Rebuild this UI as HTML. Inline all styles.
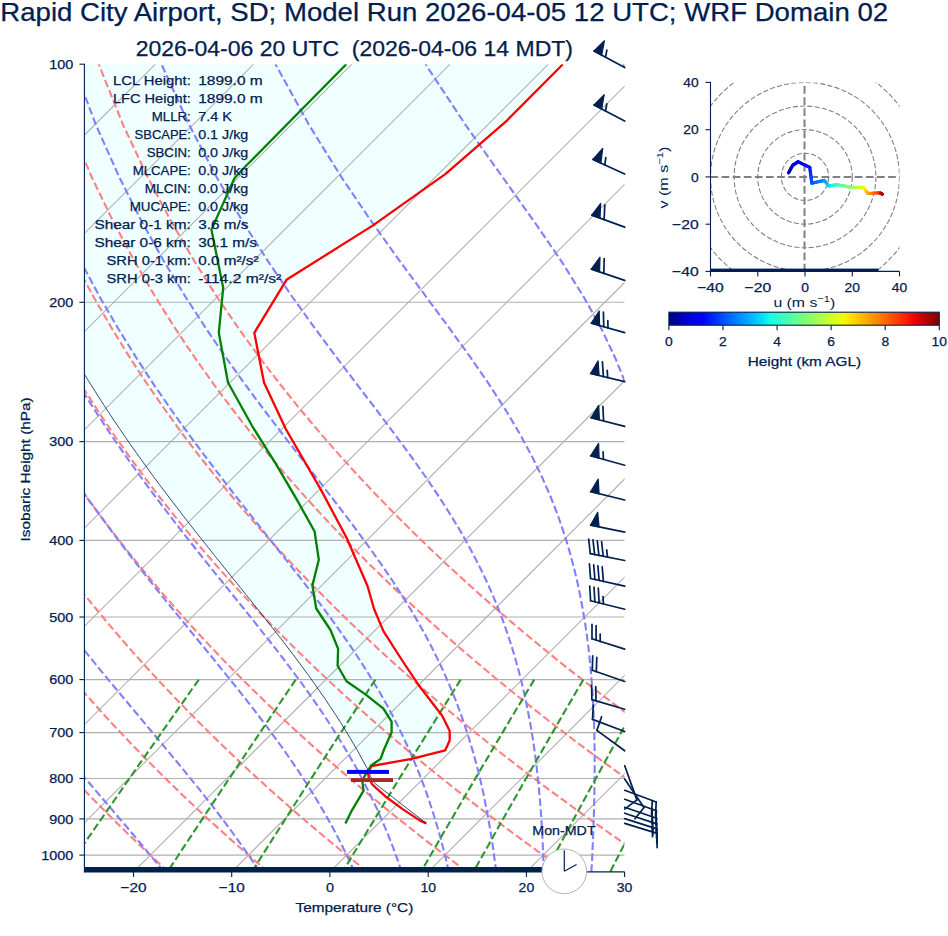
<!DOCTYPE html>
<html><head><meta charset="utf-8"><title>Skew-T</title>
<style>html,body{margin:0;padding:0;background:#fff;}svg{display:block;font-family:"Liberation Sans",sans-serif;}</style>
</head><body>
<svg width="948" height="936" viewBox="0 0 948 936" font-family="Liberation Sans, sans-serif">
<defs><clipPath id="ax"><rect x="84.4" y="64.2" width="540.2" height="807.7"/></clipPath>
<linearGradient id="jet" x1="0" x2="1" y1="0" y2="0">
<stop offset="0.000" stop-color="#000080"/>
<stop offset="0.025" stop-color="#00009c"/>
<stop offset="0.050" stop-color="#0000b9"/>
<stop offset="0.075" stop-color="#0000d6"/>
<stop offset="0.100" stop-color="#0000f3"/>
<stop offset="0.125" stop-color="#0000ff"/>
<stop offset="0.150" stop-color="#0019ff"/>
<stop offset="0.175" stop-color="#0033ff"/>
<stop offset="0.200" stop-color="#004dff"/>
<stop offset="0.225" stop-color="#0066ff"/>
<stop offset="0.250" stop-color="#0080ff"/>
<stop offset="0.275" stop-color="#0099ff"/>
<stop offset="0.300" stop-color="#00b2ff"/>
<stop offset="0.325" stop-color="#00ccff"/>
<stop offset="0.350" stop-color="#00e5f7"/>
<stop offset="0.375" stop-color="#15ffe2"/>
<stop offset="0.400" stop-color="#29ffce"/>
<stop offset="0.425" stop-color="#3effb9"/>
<stop offset="0.450" stop-color="#52ffa5"/>
<stop offset="0.475" stop-color="#67ff90"/>
<stop offset="0.500" stop-color="#7bff7b"/>
<stop offset="0.525" stop-color="#90ff67"/>
<stop offset="0.550" stop-color="#a5ff52"/>
<stop offset="0.575" stop-color="#b9ff3e"/>
<stop offset="0.600" stop-color="#ceff29"/>
<stop offset="0.625" stop-color="#e2ff15"/>
<stop offset="0.650" stop-color="#f7f600"/>
<stop offset="0.675" stop-color="#ffde00"/>
<stop offset="0.700" stop-color="#ffc600"/>
<stop offset="0.725" stop-color="#ffaf00"/>
<stop offset="0.750" stop-color="#ff9700"/>
<stop offset="0.775" stop-color="#ff8000"/>
<stop offset="0.800" stop-color="#ff6800"/>
<stop offset="0.825" stop-color="#ff5000"/>
<stop offset="0.850" stop-color="#ff3900"/>
<stop offset="0.875" stop-color="#ff2100"/>
<stop offset="0.900" stop-color="#f30900"/>
<stop offset="0.925" stop-color="#d60000"/>
<stop offset="0.950" stop-color="#b90000"/>
<stop offset="0.975" stop-color="#9c0000"/>
<stop offset="1.000" stop-color="#800000"/>
</linearGradient></defs>
<g clip-path="url(#ax)">
<polygon points="562.9,64.3 507.2,120.3 445.6,173.9 373.0,225.4 286.5,279.8 254.3,332.8 264.0,382.5 285.8,429.0 321.0,489.9 346.7,538.0 367.5,586.0 374.0,608.8 383.4,631.1 402.2,660.5 418.7,685.2 442.2,715.7 449.7,731.0 449.7,740.4 445.2,750.3 411.6,758.8 371.7,766.0 367.6,770.2 368.0,770.0 363.7,762.1 359.4,754.1 354.9,746.2 350.2,738.2 345.4,730.3 340.5,722.4 335.4,714.4 330.1,706.5 324.8,698.5 319.3,690.6 313.7,682.6 308.0,674.7 302.2,666.8 296.3,658.8 290.3,650.9 284.2,642.9 278.0,635.0 271.8,627.1 265.6,619.1 259.2,611.2 252.9,603.2 246.5,595.3 240.1,587.3 233.8,579.4 227.4,571.5 221.0,563.5 214.6,555.6 208.3,547.6 202.0,539.7 195.7,531.8 189.5,523.8 183.3,515.9 177.2,507.9 171.1,500.0 165.1,492.0 159.1,484.1 153.2,476.2 147.4,468.2 141.7,460.3 136.0,452.3 130.4,444.4 124.9,436.5 119.5,428.5 114.1,420.6 108.8,412.6 103.6,404.7 98.5,396.7 93.5,388.8 88.5,380.9 83.6,372.9 78.8,365.0 74.1,357.0 69.5,349.1 64.9,341.2 60.4,333.2 56.1,325.3 51.7,317.3 47.5,309.4 43.4,301.4 39.3,293.5 35.3,285.6 31.4,277.6 27.5,269.7 23.7,261.7 20.1,253.8 16.4,245.9 12.9,237.9 9.5,230.0 6.1,222.0 2.8,214.1 -0.5,206.1 -3.6,198.2 -6.7,190.3 -9.8,182.3 -12.7,174.4 -15.6,166.4 -18.4,158.5 -21.1,150.6 -23.8,142.6 -26.4,134.7 -28.9,126.7 -31.3,118.8 -33.7,110.8 -36.0,102.9 -38.3,95.0 -40.5,87.0 -42.6,79.1 -44.6,71.1 -46.6,63.2" fill="#f0ffff"/>
<line x1="84.4" x2="624.6" y1="302.3" y2="302.3" stroke="#b0b0b0" stroke-width="1.1"/>
<line x1="84.4" x2="624.6" y1="441.6" y2="441.6" stroke="#b0b0b0" stroke-width="1.1"/>
<line x1="84.4" x2="624.6" y1="540.4" y2="540.4" stroke="#b0b0b0" stroke-width="1.1"/>
<line x1="84.4" x2="624.6" y1="617.0" y2="617.0" stroke="#b0b0b0" stroke-width="1.1"/>
<line x1="84.4" x2="624.6" y1="679.6" y2="679.6" stroke="#b0b0b0" stroke-width="1.1"/>
<line x1="84.4" x2="624.6" y1="732.6" y2="732.6" stroke="#b0b0b0" stroke-width="1.1"/>
<line x1="84.4" x2="624.6" y1="778.5" y2="778.5" stroke="#b0b0b0" stroke-width="1.1"/>
<line x1="84.4" x2="624.6" y1="818.9" y2="818.9" stroke="#b0b0b0" stroke-width="1.1"/>
<line x1="84.4" x2="624.6" y1="855.1" y2="855.1" stroke="#b0b0b0" stroke-width="1.1"/>
<line x1="-750.5" y1="871.9" x2="57.2" y2="64.2" stroke="#b0b0b0" stroke-width="1.1"/>
<line x1="-652.2" y1="871.9" x2="155.4" y2="64.2" stroke="#b0b0b0" stroke-width="1.1"/>
<line x1="-554.0" y1="871.9" x2="253.6" y2="64.2" stroke="#b0b0b0" stroke-width="1.1"/>
<line x1="-455.8" y1="871.9" x2="351.8" y2="64.2" stroke="#b0b0b0" stroke-width="1.1"/>
<line x1="-357.6" y1="871.9" x2="450.1" y2="64.2" stroke="#b0b0b0" stroke-width="1.1"/>
<line x1="-259.4" y1="871.9" x2="548.3" y2="64.2" stroke="#b0b0b0" stroke-width="1.1"/>
<line x1="-161.1" y1="871.9" x2="646.5" y2="64.2" stroke="#b0b0b0" stroke-width="1.1"/>
<line x1="-62.9" y1="871.9" x2="744.7" y2="64.2" stroke="#b0b0b0" stroke-width="1.1"/>
<line x1="35.3" y1="871.9" x2="842.9" y2="64.2" stroke="#b0b0b0" stroke-width="1.1"/>
<line x1="133.5" y1="871.9" x2="941.2" y2="64.2" stroke="#b0b0b0" stroke-width="1.1"/>
<line x1="231.7" y1="871.9" x2="1039.4" y2="64.2" stroke="#b0b0b0" stroke-width="1.1"/>
<line x1="329.9" y1="871.9" x2="1137.6" y2="64.2" stroke="#b0b0b0" stroke-width="1.1"/>
<line x1="428.2" y1="871.9" x2="1235.8" y2="64.2" stroke="#b0b0b0" stroke-width="1.1"/>
<line x1="526.4" y1="871.9" x2="1334.0" y2="64.2" stroke="#b0b0b0" stroke-width="1.1"/>
<line x1="624.6" y1="871.9" x2="1432.3" y2="64.2" stroke="#b0b0b0" stroke-width="1.1"/>
<polyline points="68.8,871.9 62.4,865.5 55.8,858.9 49.3,852.3 42.7,845.5 36.0,838.6 29.2,831.5 22.5,824.3 15.6,817.0 8.7,809.4 1.7,801.7 -5.3,793.9 -12.4,785.8 -19.6,777.6 -26.8,769.1 -34.1,760.5 -41.5,751.6 -48.9,742.5 -56.4,733.1 -64.0,723.5 -71.7,713.5 -79.4,703.3 -87.2,692.8 -95.1,682.0 -103.1,670.8 -111.2,659.2 -119.3,647.2 -127.5,634.8 -135.9,621.9 -144.3,608.5 -152.7,594.6 -161.3,580.0 -170.0,564.9 -178.7,549.0 -187.5,532.4 -196.4,514.9 -205.3,496.5 -214.3,477.0 -223.3,456.4 -232.4,434.5 -241.5,411.0 -250.5,385.9 -259.4,358.7 -268.2,329.2 -276.8,297.0 -285.0,261.4 -292.7,221.7 -299.4,176.8 -304.9,125.1 -308.3,64.2" fill="none" stroke="#ff8080" stroke-width="2.1" stroke-dasharray="7.7 3.3"/>
<polyline points="168.4,871.9 161.4,865.5 154.4,858.9 147.3,852.3 140.1,845.5 132.9,838.6 125.6,831.5 118.2,824.3 110.8,817.0 103.3,809.4 95.7,801.7 88.0,793.9 80.3,785.8 72.5,777.6 64.6,769.1 56.7,760.5 48.6,751.6 40.5,742.5 32.3,733.1 24.0,723.5 15.6,713.5 7.2,703.3 -1.4,692.8 -10.1,682.0 -18.9,670.8 -27.7,659.2 -36.7,647.2 -45.8,634.8 -55.0,621.9 -64.3,608.5 -73.7,594.6 -83.2,580.0 -92.8,564.9 -102.5,549.0 -112.4,532.4 -122.3,514.9 -132.4,496.5 -142.6,477.0 -152.8,456.4 -163.2,434.5 -173.6,411.0 -184.0,385.9 -194.4,358.7 -204.8,329.2 -215.1,297.0 -225.1,261.4 -234.7,221.7 -243.6,176.8 -251.4,125.1 -257.4,64.2" fill="none" stroke="#ff8080" stroke-width="2.1" stroke-dasharray="7.7 3.3"/>
<polyline points="268.0,871.9 260.5,865.5 252.9,858.9 245.3,852.3 237.5,845.5 229.7,838.6 221.9,831.5 213.9,824.3 205.9,817.0 197.8,809.4 189.6,801.7 181.4,793.9 173.0,785.8 164.6,777.6 156.1,769.1 147.5,760.5 138.8,751.6 130.0,742.5 121.1,733.1 112.0,723.5 102.9,713.5 93.7,703.3 84.4,692.8 75.0,682.0 65.4,670.8 55.7,659.2 45.9,647.2 36.0,634.8 25.9,621.9 15.8,608.5 5.4,594.6 -5.0,580.0 -15.6,564.9 -26.4,549.0 -37.3,532.4 -48.3,514.9 -59.5,496.5 -70.9,477.0 -82.3,456.4 -94.0,434.5 -105.7,411.0 -117.5,385.9 -129.4,358.7 -141.4,329.2 -153.3,297.0 -165.1,261.4 -176.7,221.7 -187.7,176.8 -197.9,125.1 -206.6,64.2" fill="none" stroke="#ff8080" stroke-width="2.1" stroke-dasharray="7.7 3.3"/>
<polyline points="367.6,871.9 359.6,865.5 351.4,858.9 343.2,852.3 335.0,845.5 326.6,838.6 318.2,831.5 309.7,824.3 301.1,817.0 292.4,809.4 283.6,801.7 274.7,793.9 265.8,785.8 256.7,777.6 247.5,769.1 238.3,760.5 228.9,751.6 219.4,742.5 209.8,733.1 200.1,723.5 190.2,713.5 180.3,703.3 170.2,692.8 160.0,682.0 149.7,670.8 139.2,659.2 128.5,647.2 117.8,634.8 106.8,621.9 95.8,608.5 84.5,594.6 73.1,580.0 61.5,564.9 49.7,549.0 37.8,532.4 25.7,514.9 13.4,496.5 0.9,477.0 -11.8,456.4 -24.7,434.5 -37.8,411.0 -51.0,385.9 -64.4,358.7 -78.0,329.2 -91.6,297.0 -105.2,261.4 -118.7,221.7 -131.9,176.8 -144.4,125.1 -155.7,64.2" fill="none" stroke="#ff8080" stroke-width="2.1" stroke-dasharray="7.7 3.3"/>
<polyline points="467.2,871.9 458.6,865.5 450.0,858.9 441.2,852.3 432.4,845.5 423.5,838.6 414.5,831.5 405.4,824.3 396.2,817.0 386.9,809.4 377.6,801.7 368.1,793.9 358.5,785.8 348.8,777.6 339.0,769.1 329.0,760.5 319.0,751.6 308.8,742.5 298.5,733.1 288.1,723.5 277.6,713.5 266.9,703.3 256.0,692.8 245.0,682.0 233.9,670.8 222.6,659.2 211.2,647.2 199.5,634.8 187.7,621.9 175.8,608.5 163.6,594.6 151.2,580.0 138.7,564.9 125.9,549.0 112.9,532.4 99.7,514.9 86.2,496.5 72.6,477.0 58.7,456.4 44.5,434.5 30.1,411.0 15.4,385.9 0.5,358.7 -14.6,329.2 -29.8,297.0 -45.2,261.4 -60.7,221.7 -76.0,176.8 -90.9,125.1 -104.8,64.2" fill="none" stroke="#ff8080" stroke-width="2.1" stroke-dasharray="7.7 3.3"/>
<polyline points="566.8,871.9 557.7,865.5 548.5,858.9 539.2,852.3 529.9,845.5 520.4,838.6 510.8,831.5 501.1,824.3 491.4,817.0 481.5,809.4 471.5,801.7 461.4,793.9 451.2,785.8 440.9,777.6 430.4,769.1 419.8,760.5 409.1,751.6 398.3,742.5 387.3,733.1 376.1,723.5 364.9,713.5 353.4,703.3 341.8,692.8 330.1,682.0 318.2,670.8 306.1,659.2 293.8,647.2 281.3,634.8 268.6,621.9 255.8,608.5 242.7,594.6 229.4,580.0 215.8,564.9 202.0,549.0 188.0,532.4 173.7,514.9 159.1,496.5 144.3,477.0 129.2,456.4 113.7,434.5 98.0,411.0 81.9,385.9 65.5,358.7 48.9,329.2 31.9,297.0 14.7,261.4 -2.7,221.7 -20.1,176.8 -37.4,125.1 -53.9,64.2" fill="none" stroke="#ff8080" stroke-width="2.1" stroke-dasharray="7.7 3.3"/>
<polyline points="666.4,871.9 656.8,865.5 647.0,858.9 637.2,852.3 627.3,845.5 617.3,838.6 607.1,831.5 596.9,824.3 586.5,817.0 576.1,809.4 565.5,801.7 554.8,793.9 543.9,785.8 532.9,777.6 521.8,769.1 510.6,760.5 499.2,751.6 487.7,742.5 476.0,733.1 464.2,723.5 452.2,713.5 440.0,703.3 427.7,692.8 415.1,682.0 402.4,670.8 389.5,659.2 376.4,647.2 363.1,634.8 349.5,621.9 335.8,608.5 321.8,594.6 307.5,580.0 293.0,564.9 278.2,549.0 263.1,532.4 247.7,514.9 232.0,496.5 216.0,477.0 199.6,456.4 182.9,434.5 165.9,411.0 148.4,385.9 130.5,358.7 112.3,329.2 93.6,297.0 74.6,261.4 55.3,221.7 35.7,176.8 16.2,125.1 -3.1,64.2" fill="none" stroke="#ff8080" stroke-width="2.1" stroke-dasharray="7.7 3.3"/>
<polyline points="766.0,871.9 755.8,865.5 745.6,858.9 735.2,852.3 724.7,845.5 714.1,838.6 703.4,831.5 692.6,824.3 681.7,817.0 670.6,809.4 659.4,801.7 648.1,793.9 636.6,785.8 625.0,777.6 613.3,769.1 601.4,760.5 589.3,751.6 577.1,742.5 564.8,733.1 552.2,723.5 539.5,713.5 526.6,703.3 513.5,692.8 500.2,682.0 486.7,670.8 473.0,659.2 459.0,647.2 444.9,634.8 430.4,621.9 415.8,608.5 400.8,594.6 385.6,580.0 370.1,564.9 354.3,549.0 338.2,532.4 321.7,514.9 304.9,496.5 287.7,477.0 270.1,456.4 252.2,434.5 233.7,411.0 214.9,385.9 195.5,358.7 175.7,329.2 155.4,297.0 134.6,261.4 113.3,221.7 91.6,176.8 69.7,125.1 47.8,64.2" fill="none" stroke="#ff8080" stroke-width="2.1" stroke-dasharray="7.7 3.3"/>
<polyline points="865.6,871.9 854.9,865.5 844.1,858.9 833.2,852.3 822.2,845.5 811.0,838.6 799.8,831.5 788.4,824.3 776.8,817.0 765.2,809.4 753.4,801.7 741.4,793.9 729.4,785.8 717.1,777.6 704.7,769.1 692.2,760.5 679.5,751.6 666.6,742.5 653.5,733.1 640.2,723.5 626.8,713.5 613.2,703.3 599.3,692.8 585.2,682.0 570.9,670.8 556.4,659.2 541.7,647.2 526.6,634.8 511.3,621.9 495.8,608.5 479.9,594.6 463.8,580.0 447.3,564.9 430.5,549.0 413.3,532.4 395.7,514.9 377.8,496.5 359.4,477.0 340.6,456.4 321.4,434.5 301.6,411.0 281.4,385.9 260.5,358.7 239.1,329.2 217.1,297.0 194.5,261.4 171.3,221.7 147.5,176.8 123.2,125.1 98.7,64.2" fill="none" stroke="#ff8080" stroke-width="2.1" stroke-dasharray="7.7 3.3"/>
<polyline points="-31.7,871.9 -37.2,865.5 -42.9,858.9 -48.6,852.3 -54.4,845.5 -60.2,838.6 -66.2,831.5 -72.2,824.3 -78.2,817.0 -84.4,809.4 -90.6,801.7 -96.9,793.9 -103.3,785.8 -109.7,777.6 -116.2,769.1 -122.8,760.5 -129.4,751.6 -136.1,742.5 -142.9,733.1 -149.7,723.5 -156.7,713.5 -163.7,703.3 -170.7,692.8 -177.8,682.0 -185.0,670.8 -192.3,659.2 -199.6,647.2 -207.0,634.8 -214.5,621.9 -222.0,608.5 -229.6,594.6 -237.2,580.0 -244.9,564.9 -252.6,549.0 -260.4,532.4 -268.2,514.9 -276.1,496.5 -283.9,477.0 -291.8,456.4 -299.6,434.5 -307.4,411.0 -315.0,385.9 -322.6,358.7 -329.8,329.2 -336.8,297.0 -343.2,261.4 -349.0,221.7 -353.7,176.8 -356.9,125.1 -357.7,64.2" fill="none" stroke="#8080ff" stroke-width="2.1" stroke-dasharray="7.7 3.3"/>
<polyline points="66.7,871.9 61.1,865.5 55.4,858.9 49.6,852.3 43.7,845.5 37.6,838.6 31.5,831.5 25.3,824.3 18.9,817.0 12.5,809.4 5.9,801.7 -0.8,793.9 -7.6,785.8 -14.4,777.6 -21.4,769.1 -28.5,760.5 -35.7,751.6 -43.0,742.5 -50.4,733.1 -57.9,723.5 -65.4,713.5 -73.1,703.3 -80.9,692.8 -88.8,682.0 -96.7,670.8 -104.8,659.2 -113.0,647.2 -121.2,634.8 -129.6,621.9 -138.0,608.5 -146.5,594.6 -155.2,580.0 -163.9,564.9 -172.7,549.0 -181.6,532.4 -190.5,514.9 -199.6,496.5 -208.6,477.0 -217.8,456.4 -226.9,434.5 -236.1,411.0 -245.2,385.9 -254.3,358.7 -263.2,329.2 -271.9,297.0 -280.3,261.4 -288.1,221.7 -295.0,176.8 -300.7,125.1 -304.3,64.2" fill="none" stroke="#8080ff" stroke-width="2.1" stroke-dasharray="7.7 3.3"/>
<polyline points="163.9,871.9 158.7,865.5 153.4,858.9 147.9,852.3 142.3,845.5 136.5,838.6 130.6,831.5 124.5,824.3 118.2,817.0 111.8,809.4 105.2,801.7 98.5,793.9 91.6,785.8 84.6,777.6 77.3,769.1 70.0,760.5 62.4,751.6 54.8,742.5 46.9,733.1 39.0,723.5 30.8,713.5 22.6,703.3 14.1,692.8 5.6,682.0 -3.1,670.8 -12.0,659.2 -20.9,647.2 -30.0,634.8 -39.3,621.9 -48.7,608.5 -58.2,594.6 -67.8,580.0 -77.6,564.9 -87.5,549.0 -97.6,532.4 -107.7,514.9 -118.0,496.5 -128.4,477.0 -138.9,456.4 -149.5,434.5 -160.1,411.0 -170.8,385.9 -181.6,358.7 -192.3,329.2 -202.8,297.0 -213.2,261.4 -223.2,221.7 -232.5,176.8 -240.8,125.1 -247.3,64.2" fill="none" stroke="#8080ff" stroke-width="2.1" stroke-dasharray="7.7 3.3"/>
<polyline points="259.7,871.9 255.5,865.5 251.1,858.9 246.5,852.3 241.8,845.5 236.8,838.6 231.7,831.5 226.4,824.3 220.8,817.0 215.1,809.4 209.1,801.7 202.9,793.9 196.5,785.8 189.8,777.6 182.9,769.1 175.8,760.5 168.4,751.6 160.8,742.5 153.0,733.1 144.9,723.5 136.6,713.5 128.0,703.3 119.3,692.8 110.3,682.0 101.0,670.8 91.6,659.2 81.9,647.2 72.0,634.8 61.9,621.9 51.6,608.5 41.1,594.6 30.4,580.0 19.5,564.9 8.4,549.0 -2.9,532.4 -14.4,514.9 -26.0,496.5 -37.9,477.0 -49.9,456.4 -62.1,434.5 -74.4,411.0 -86.9,385.9 -99.5,358.7 -112.2,329.2 -124.9,297.0 -137.5,261.4 -149.9,221.7 -162.0,176.8 -173.2,125.1 -183.1,64.2" fill="none" stroke="#8080ff" stroke-width="2.1" stroke-dasharray="7.7 3.3"/>
<polyline points="354.5,871.9 351.6,865.5 348.5,858.9 345.3,852.3 342.0,845.5 338.5,838.6 334.8,831.5 330.9,824.3 326.8,817.0 322.4,809.4 317.9,801.7 313.1,793.9 308.0,785.8 302.7,777.6 297.1,769.1 291.2,760.5 285.0,751.6 278.5,742.5 271.6,733.1 264.4,723.5 256.9,713.5 249.0,703.3 240.7,692.8 232.0,682.0 223.0,670.8 213.6,659.2 203.8,647.2 193.6,634.8 183.1,621.9 172.2,608.5 160.9,594.6 149.3,580.0 137.4,564.9 125.1,549.0 112.5,532.4 99.6,514.9 86.3,496.5 72.8,477.0 59.0,456.4 44.9,434.5 30.6,411.0 16.0,385.9 1.1,358.7 -14.0,329.2 -29.3,297.0 -44.7,261.4 -60.2,221.7 -75.5,176.8 -90.4,125.1 -104.4,64.2" fill="none" stroke="#8080ff" stroke-width="2.1" stroke-dasharray="7.7 3.3"/>
<polyline points="401.6,871.9 399.5,865.5 397.2,858.9 394.8,852.3 392.3,845.5 389.6,838.6 386.7,831.5 383.7,824.3 380.5,817.0 377.2,809.4 373.6,801.7 369.8,793.9 365.7,785.8 361.5,777.6 356.9,769.1 352.1,760.5 346.9,751.6 341.4,742.5 335.6,733.1 329.4,723.5 322.9,713.5 315.9,703.3 308.5,692.8 300.7,682.0 292.4,670.8 283.6,659.2 274.4,647.2 264.6,634.8 254.4,621.9 243.7,608.5 232.4,594.6 220.7,580.0 208.5,564.9 195.8,549.0 182.7,532.4 169.2,514.9 155.2,496.5 140.8,477.0 126.0,456.4 110.8,434.5 95.3,411.0 79.3,385.9 63.1,358.7 46.5,329.2 29.6,297.0 12.5,261.4 -4.8,221.7 -22.2,176.8 -39.3,125.1 -55.8,64.2" fill="none" stroke="#8080ff" stroke-width="2.1" stroke-dasharray="7.7 3.3"/>
<polyline points="448.8,871.9 447.4,865.5 445.9,858.9 444.2,852.3 442.5,845.5 440.7,838.6 438.7,831.5 436.6,824.3 434.4,817.0 432.0,809.4 429.5,801.7 426.8,793.9 423.9,785.8 420.7,777.6 417.4,769.1 413.8,760.5 410.0,751.6 405.8,742.5 401.4,733.1 396.6,723.5 391.5,713.5 385.9,703.3 380.0,692.8 373.5,682.0 366.6,670.8 359.2,659.2 351.2,647.2 342.6,634.8 333.4,621.9 323.6,608.5 313.1,594.6 301.9,580.0 290.1,564.9 277.5,549.0 264.3,532.4 250.5,514.9 236.0,496.5 220.9,477.0 205.2,456.4 188.9,434.5 172.1,411.0 154.7,385.9 136.9,358.7 118.6,329.2 99.8,297.0 80.7,261.4 61.2,221.7 41.4,176.8 21.6,125.1 2.1,64.2" fill="none" stroke="#8080ff" stroke-width="2.1" stroke-dasharray="7.7 3.3"/>
<polyline points="496.1,871.9 495.4,865.5 494.5,858.9 493.7,852.3 492.7,845.5 491.7,838.6 490.5,831.5 489.3,824.3 488.0,817.0 486.6,809.4 485.1,801.7 483.5,793.9 481.7,785.8 479.8,777.6 477.7,769.1 475.4,760.5 472.9,751.6 470.2,742.5 467.3,733.1 464.1,723.5 460.6,713.5 456.8,703.3 452.7,692.8 448.1,682.0 443.2,670.8 437.7,659.2 431.7,647.2 425.2,634.8 418.0,621.9 410.1,608.5 401.4,594.6 392.0,580.0 381.7,564.9 370.4,549.0 358.3,532.4 345.1,514.9 331.0,496.5 315.9,477.0 299.8,456.4 282.8,434.5 264.9,411.0 246.2,385.9 226.7,358.7 206.5,329.2 185.6,297.0 164.0,261.4 141.8,221.7 119.1,176.8 96.0,125.1 72.9,64.2" fill="none" stroke="#8080ff" stroke-width="2.1" stroke-dasharray="7.7 3.3"/>
<polyline points="543.6,871.9 543.5,865.5 543.3,858.9 543.0,852.3 542.8,845.5 542.5,838.6 542.1,831.5 541.7,824.3 541.2,817.0 540.7,809.4 540.1,801.7 539.4,793.9 538.7,785.8 537.8,777.6 536.9,769.1 535.8,760.5 534.7,751.6 533.4,742.5 531.9,733.1 530.3,723.5 528.4,713.5 526.4,703.3 524.1,692.8 521.6,682.0 518.7,670.8 515.5,659.2 511.9,647.2 507.9,634.8 503.4,621.9 498.3,608.5 492.5,594.6 486.0,580.0 478.7,564.9 470.4,549.0 461.1,532.4 450.6,514.9 438.8,496.5 425.7,477.0 411.1,456.4 394.9,434.5 377.3,411.0 358.1,385.9 337.5,358.7 315.6,329.2 292.4,297.0 268.1,261.4 242.8,221.7 216.4,176.8 189.3,125.1 161.5,64.2" fill="none" stroke="#8080ff" stroke-width="2.1" stroke-dasharray="7.7 3.3"/>
<polyline points="591.4,871.9 591.7,865.5 592.1,858.9 592.4,852.3 592.7,845.5 593.0,838.6 593.3,831.5 593.6,824.3 593.8,817.0 594.0,809.4 594.2,801.7 594.4,793.9 594.5,785.8 594.6,777.6 594.7,769.1 594.7,760.5 594.6,751.6 594.5,742.5 594.3,733.1 594.0,723.5 593.6,713.5 593.1,703.3 592.5,692.8 591.7,682.0 590.8,670.8 589.7,659.2 588.4,647.2 586.8,634.8 584.9,621.9 582.6,608.5 580.0,594.6 576.9,580.0 573.2,564.9 568.9,549.0 563.7,532.4 557.7,514.9 550.5,496.5 542.0,477.0 532.0,456.4 520.2,434.5 506.3,411.0 490.1,385.9 471.4,358.7 450.1,329.2 426.3,297.0 400.0,261.4 371.6,221.7 341.2,176.8 309.1,125.1 275.5,64.2" fill="none" stroke="#8080ff" stroke-width="2.1" stroke-dasharray="7.7 3.3"/>
<polyline points="639.3,871.9 640.1,865.5 640.9,858.9 641.7,852.3 642.5,845.5 643.3,838.6 644.2,831.5 645.0,824.3 645.8,817.0 646.7,809.4 647.5,801.7 648.3,793.9 649.2,785.8 650.0,777.6 650.9,769.1 651.7,760.5 652.5,751.6 653.4,742.5 654.2,733.1 655.0,723.5 655.7,713.5 656.5,703.3 657.2,692.8 657.8,682.0 658.5,670.8 659.0,659.2 659.5,647.2 659.9,634.8 660.1,621.9 660.2,608.5 660.2,594.6 660.0,580.0 659.5,564.9 658.7,549.0 657.5,532.4 655.8,514.9 653.6,496.5 650.6,477.0 646.7,456.4 641.7,434.5 635.1,411.0 626.6,385.9 615.6,358.7 601.6,329.2 583.8,297.0 561.5,261.4 534.3,221.7 502.3,176.8 465.7,125.1 425.5,64.2" fill="none" stroke="#8080ff" stroke-width="2.1" stroke-dasharray="7.7 3.3"/>
<polyline points="687.5,871.9 688.6,865.5 689.8,858.9 691.0,852.3 692.2,845.5 693.4,838.6 694.7,831.5 695.9,824.3 697.2,817.0 698.6,809.4 699.9,801.7 701.3,793.9 702.7,785.8 704.1,777.6 705.6,769.1 707.1,760.5 708.6,751.6 710.1,742.5 711.7,733.1 713.3,723.5 715.0,713.5 716.6,703.3 718.3,692.8 720.1,682.0 721.8,670.8 723.6,659.2 725.4,647.2 727.2,634.8 729.0,621.9 730.9,608.5 732.7,594.6 734.6,580.0 736.4,564.9 738.1,549.0 739.8,532.4 741.4,514.9 742.9,496.5 744.1,477.0 745.1,456.4 745.7,434.5 745.8,411.0 745.1,385.9 743.3,358.7 740.1,329.2 734.6,297.0 726.0,261.4 712.6,221.7 692.5,176.8 663.3,125.1 623.1,64.2" fill="none" stroke="#8080ff" stroke-width="2.1" stroke-dasharray="7.7 3.3"/>
<polyline points="735.9,871.9 737.3,865.5 738.7,858.9 740.2,852.3 741.7,845.5 743.3,838.6 744.8,831.5 746.5,824.3 748.1,817.0 749.8,809.4 751.6,801.7 753.3,793.9 755.2,785.8 757.0,777.6 759.0,769.1 760.9,760.5 763.0,751.6 765.1,742.5 767.2,733.1 769.4,723.5 771.7,713.5 774.1,703.3 776.5,692.8 779.0,682.0 781.5,670.8 784.2,659.2 786.9,647.2 789.7,634.8 792.7,621.9 795.7,608.5 798.8,594.6 802.1,580.0 805.4,564.9 808.9,549.0 812.5,532.4 816.2,514.9 820.0,496.5 824.0,477.0 828.1,456.4 832.3,434.5 836.5,411.0 840.8,385.9 845.1,358.7 849.2,329.2 853.1,297.0 856.2,261.4 858.2,221.7 857.8,176.8 853.2,125.1 840.3,64.2" fill="none" stroke="#8080ff" stroke-width="2.1" stroke-dasharray="7.7 3.3"/>
<polyline points="784.4,871.9 786.1,865.5 787.7,858.9 789.4,852.3 791.2,845.5 792.9,838.6 794.8,831.5 796.6,824.3 798.6,817.0 800.5,809.4 802.6,801.7 804.7,793.9 806.8,785.8 809.0,777.6 811.3,769.1 813.6,760.5 816.0,751.6 818.5,742.5 821.0,733.1 823.7,723.5 826.4,713.5 829.2,703.3 832.2,692.8 835.2,682.0 838.3,670.8 841.6,659.2 845.0,647.2 848.5,634.8 852.1,621.9 856.0,608.5 859.9,594.6 864.1,580.0 868.5,564.9 873.0,549.0 877.8,532.4 882.9,514.9 888.2,496.5 893.8,477.0 899.8,456.4 906.1,434.5 912.8,411.0 920.0,385.9 927.6,358.7 935.8,329.2 944.6,297.0 954.1,261.4 964.2,221.7 974.9,176.8 986.1,125.1 997.1,64.2" fill="none" stroke="#8080ff" stroke-width="2.1" stroke-dasharray="7.7 3.3"/>
<polyline points="833.1,871.9 834.9,865.5 836.7,858.9 838.6,852.3 840.5,845.5 842.5,838.6 844.5,831.5 846.5,824.3 848.6,817.0 850.8,809.4 853.1,801.7 855.4,793.9 857.7,785.8 860.2,777.6 862.7,769.1 865.2,760.5 867.9,751.6 870.7,742.5 873.5,733.1 876.5,723.5 879.5,713.5 882.7,703.3 885.9,692.8 889.3,682.0 892.8,670.8 896.5,659.2 900.3,647.2 904.3,634.8 908.4,621.9 912.8,608.5 917.3,594.6 922.1,580.0 927.1,564.9 932.4,549.0 938.0,532.4 943.8,514.9 950.1,496.5 956.7,477.0 963.8,456.4 971.4,434.5 979.5,411.0 988.3,385.9 997.8,358.7 1008.2,329.2 1019.7,297.0 1032.3,261.4 1046.4,221.7 1062.4,176.8 1080.6,125.1 1101.8,64.2" fill="none" stroke="#8080ff" stroke-width="2.1" stroke-dasharray="7.7 3.3"/>
<polyline points="198.8,679.6 195.1,684.9 191.4,690.0 187.9,695.1 184.4,700.1 180.9,705.0 177.5,709.8 174.1,714.6 170.8,719.3 167.6,724.0 164.3,728.6 161.2,733.1 158.0,737.6 155.0,742.0 151.9,746.3 148.9,750.6 145.9,754.9 143.0,759.1 140.1,763.2 137.2,767.3 134.4,771.4 131.6,775.4 128.9,779.3 126.1,783.2 123.4,787.1 120.8,790.9 118.2,794.7 115.6,798.5 113.0,802.2 110.4,805.8 107.9,809.4 105.4,813.0 103.0,816.6 100.5,820.1 98.1,823.6 95.8,827.0 93.4,830.4 91.1,833.8 88.7,837.1 86.5,840.4 84.2,843.7 82.0,846.9 79.7,850.2 77.5,853.3 75.4,856.5 73.2,859.6 71.1,862.7 68.9,865.8 66.8,868.8 64.8,871.9" fill="none" stroke="#2d962d" stroke-width="2.1" stroke-dasharray="7.7 3.3"/>
<polyline points="295.7,679.6 292.2,684.9 288.7,690.0 285.3,695.1 281.9,700.1 278.6,705.0 275.4,709.8 272.1,714.6 269.0,719.3 265.8,724.0 262.7,728.6 259.7,733.1 256.7,737.6 253.7,742.0 250.8,746.3 247.9,750.6 245.1,754.9 242.3,759.1 239.5,763.2 236.8,767.3 234.1,771.4 231.4,775.4 228.7,779.3 226.1,783.2 223.6,787.1 221.0,790.9 218.5,794.7 216.0,798.5 213.5,802.2 211.1,805.8 208.7,809.4 206.3,813.0 204.0,816.6 201.6,820.1 199.3,823.6 197.1,827.0 194.8,830.4 192.6,833.8 190.4,837.1 188.2,840.4 186.0,843.7 183.9,846.9 181.7,850.2 179.6,853.3 177.6,856.5 175.5,859.6 173.5,862.7 171.4,865.8 169.4,868.8 167.4,871.9" fill="none" stroke="#2d962d" stroke-width="2.1" stroke-dasharray="7.7 3.3"/>
<polyline points="375.3,679.6 371.9,684.9 368.5,690.0 365.2,695.1 362.0,700.1 358.8,705.0 355.6,709.8 352.5,714.6 349.5,719.3 346.4,724.0 343.5,728.6 340.5,733.1 337.6,737.6 334.8,742.0 332.0,746.3 329.2,750.6 326.5,754.9 323.8,759.1 321.1,763.2 318.5,767.3 315.8,771.4 313.3,775.4 310.7,779.3 308.2,783.2 305.7,787.1 303.3,790.9 300.9,794.7 298.5,798.5 296.1,802.2 293.8,805.8 291.5,809.4 289.2,813.0 286.9,816.6 284.7,820.1 282.5,823.6 280.3,827.0 278.1,830.4 276.0,833.8 273.8,837.1 271.7,840.4 269.7,843.7 267.6,846.9 265.6,850.2 263.5,853.3 261.5,856.5 259.6,859.6 257.6,862.7 255.7,865.8 253.7,868.8 251.8,871.9" fill="none" stroke="#2d962d" stroke-width="2.1" stroke-dasharray="7.7 3.3"/>
<polyline points="460.7,679.6 457.4,684.9 454.2,690.0 451.0,695.1 447.9,700.1 444.9,705.0 441.8,709.8 438.9,714.6 435.9,719.3 433.0,724.0 430.2,728.6 427.4,733.1 424.6,737.6 421.9,742.0 419.2,746.3 416.5,750.6 413.9,754.9 411.3,759.1 408.8,763.2 406.3,767.3 403.8,771.4 401.3,775.4 398.9,779.3 396.5,783.2 394.1,787.1 391.8,790.9 389.5,794.7 387.2,798.5 384.9,802.2 382.7,805.8 380.5,809.4 378.3,813.0 376.1,816.6 374.0,820.1 371.9,823.6 369.8,827.0 367.7,830.4 365.7,833.8 363.6,837.1 361.6,840.4 359.6,843.7 357.7,846.9 355.7,850.2 353.8,853.3 351.9,856.5 350.0,859.6 348.1,862.7 346.3,865.8 344.5,868.8 342.6,871.9" fill="none" stroke="#2d962d" stroke-width="2.1" stroke-dasharray="7.7 3.3"/>
<polyline points="534.2,679.6 531.1,684.9 528.0,690.0 524.9,695.1 522.0,700.1 519.0,705.0 516.1,709.8 513.2,714.6 510.4,719.3 507.7,724.0 504.9,728.6 502.2,733.1 499.6,737.6 496.9,742.0 494.4,746.3 491.8,750.6 489.3,754.9 486.8,759.1 484.4,763.2 481.9,767.3 479.6,771.4 477.2,775.4 474.9,779.3 472.6,783.2 470.3,787.1 468.0,790.9 465.8,794.7 463.6,798.5 461.5,802.2 459.3,805.8 457.2,809.4 455.1,813.0 453.1,816.6 451.0,820.1 449.0,823.6 447.0,827.0 445.0,830.4 443.0,833.8 441.1,837.1 439.2,840.4 437.3,843.7 435.4,846.9 433.5,850.2 431.7,853.3 429.9,856.5 428.1,859.6 426.3,862.7 424.5,865.8 422.8,868.8 421.0,871.9" fill="none" stroke="#2d962d" stroke-width="2.1" stroke-dasharray="7.7 3.3"/>
<polyline points="583.3,679.6 580.3,684.9 577.2,690.0 574.3,695.1 571.4,700.1 568.5,705.0 565.7,709.8 562.9,714.6 560.2,719.3 557.5,724.0 554.8,728.6 552.2,733.1 549.6,737.6 547.1,742.0 544.6,746.3 542.1,750.6 539.7,754.9 537.2,759.1 534.9,763.2 532.5,767.3 530.2,771.4 527.9,775.4 525.6,779.3 523.4,783.2 521.2,787.1 519.0,790.9 516.9,794.7 514.7,798.5 512.6,802.2 510.6,805.8 508.5,809.4 506.5,813.0 504.5,816.6 502.5,820.1 500.5,823.6 498.6,827.0 496.7,830.4 494.8,833.8 492.9,837.1 491.0,840.4 489.2,843.7 487.4,846.9 485.6,850.2 483.8,853.3 482.0,856.5 480.3,859.6 478.5,862.7 476.8,865.8 475.1,868.8 473.4,871.9" fill="none" stroke="#2d962d" stroke-width="2.1" stroke-dasharray="7.7 3.3"/>
<polyline points="650.7,679.6 647.7,684.9 644.9,690.0 642.0,695.1 639.2,700.1 636.5,705.0 633.8,709.8 631.1,714.6 628.5,719.3 625.9,724.0 623.3,728.6 620.8,733.1 618.4,737.6 615.9,742.0 613.5,746.3 611.1,750.6 608.8,754.9 606.5,759.1 604.2,763.2 601.9,767.3 599.7,771.4 597.5,775.4 595.4,779.3 593.2,783.2 591.1,787.1 589.0,790.9 587.0,794.7 584.9,798.5 582.9,802.2 580.9,805.8 579.0,809.4 577.0,813.0 575.1,816.6 573.2,820.1 571.3,823.6 569.5,827.0 567.6,830.4 565.8,833.8 564.0,837.1 562.3,840.4 560.5,843.7 558.8,846.9 557.0,850.2 555.3,853.3 553.6,856.5 552.0,859.6 550.3,862.7 548.7,865.8 547.1,868.8 545.5,871.9" fill="none" stroke="#2d962d" stroke-width="2.1" stroke-dasharray="7.7 3.3"/>
<polyline points="711.2,679.6 708.3,684.9 705.6,690.0 702.8,695.1 700.1,700.1 697.5,705.0 694.9,709.8 692.3,714.6 689.8,719.3 687.3,724.0 684.9,728.6 682.5,733.1 680.1,737.6 677.7,742.0 675.4,746.3 673.1,750.6 670.9,754.9 668.7,759.1 666.5,763.2 664.3,767.3 662.2,771.4 660.1,775.4 658.0,779.3 656.0,783.2 654.0,787.1 652.0,790.9 650.0,794.7 648.0,798.5 646.1,802.2 644.2,805.8 642.3,809.4 640.5,813.0 638.6,816.6 636.8,820.1 635.0,823.6 633.2,827.0 631.5,830.4 629.7,833.8 628.0,837.1 626.3,840.4 624.6,843.7 623.0,846.9 621.3,850.2 619.7,853.3 618.1,856.5 616.5,859.6 614.9,862.7 613.3,865.8 611.8,868.8 610.2,871.9" fill="none" stroke="#2d962d" stroke-width="2.1" stroke-dasharray="7.7 3.3"/>
<polyline points="755.3,679.6 752.6,684.9 749.9,690.0 747.2,695.1 744.6,700.1 742.0,705.0 739.5,709.8 737.0,714.6 734.6,719.3 732.2,724.0 729.8,728.6 727.5,733.1 725.2,737.6 722.9,742.0 720.6,746.3 718.4,750.6 716.3,754.9 714.1,759.1 712.0,763.2 709.9,767.3 707.8,771.4 705.8,775.4 703.8,779.3 701.8,783.2 699.8,787.1 697.9,790.9 696.0,794.7 694.1,798.5 692.2,802.2 690.4,805.8 688.6,809.4 686.8,813.0 685.0,816.6 683.2,820.1 681.5,823.6 679.8,827.0 678.1,830.4 676.4,833.8 674.7,837.1 673.1,840.4 671.5,843.7 669.9,846.9 668.3,850.2 666.7,853.3 665.1,856.5 663.6,859.6 662.1,862.7 660.6,865.8 659.1,868.8 657.6,871.9" fill="none" stroke="#2d962d" stroke-width="2.1" stroke-dasharray="7.7 3.3"/>
<rect x="84.4" y="867" width="480.6" height="5" fill="#002050"/>
<polyline points="562.9,64.3 507.2,120.3 445.6,173.9 373.0,225.4 286.5,279.8 254.3,332.8 264.0,382.5 285.8,429.0 321.0,489.9 346.7,538.0 367.5,586.0 374.0,608.8 383.4,631.1 402.2,660.5 418.7,685.2 442.2,715.7 449.7,731.0 449.7,740.4 445.2,750.3 411.6,758.8 371.7,766.0 368.0,772.2 368.7,777.3 372.4,784.7 386.5,797.3 402.7,809.1 420.4,820.9 426.3,823.4" fill="none" stroke="#ff0000" stroke-width="2.3" stroke-linejoin="round"/>
<polyline points="346.3,64.3 245.6,166.3 234.6,178.0 211.4,229.6 223.2,287.8 218.8,332.8 228.0,382.5 252.0,425.8 276.0,464.2 298.6,502.7 314.6,531.5 318.8,559.7 312.4,585.4 316.2,608.5 330.5,630.0 338.1,648.8 337.6,665.7 346.5,681.2 365.8,694.6 383.4,708.7 391.6,721.6 391.6,732.2 383.8,750.0 380.6,758.9 371.0,765.5 364.3,776.6 362.4,781.8 363.6,790.6 351.8,810.6 345.4,823.4" fill="none" stroke="#008000" stroke-width="2.3" stroke-linejoin="round"/>
<polyline points="-46.6,63.2 -44.6,71.1 -42.6,79.1 -40.5,87.0 -38.3,95.0 -36.0,102.9 -33.7,110.8 -31.3,118.8 -28.9,126.7 -26.4,134.7 -23.8,142.6 -21.1,150.6 -18.4,158.5 -15.6,166.4 -12.7,174.4 -9.8,182.3 -6.7,190.3 -3.6,198.2 -0.5,206.1 2.8,214.1 6.1,222.0 9.5,230.0 12.9,237.9 16.4,245.9 20.1,253.8 23.7,261.7 27.5,269.7 31.4,277.6 35.3,285.6 39.3,293.5 43.4,301.4 47.5,309.4 51.7,317.3 56.1,325.3 60.4,333.2 64.9,341.2 69.5,349.1 74.1,357.0 78.8,365.0 83.6,372.9 88.5,380.9 93.5,388.8 98.5,396.7 103.6,404.7 108.8,412.6 114.1,420.6 119.5,428.5 124.9,436.5 130.4,444.4 136.0,452.3 141.7,460.3 147.4,468.2 153.2,476.2 159.1,484.1 165.1,492.0 171.1,500.0 177.2,507.9 183.3,515.9 189.5,523.8 195.7,531.8 202.0,539.7 208.3,547.6 214.6,555.6 221.0,563.5 227.4,571.5 233.8,579.4 240.1,587.3 246.5,595.3 252.9,603.2 259.2,611.2 265.6,619.1 271.8,627.1 278.0,635.0 284.2,642.9 290.3,650.9 296.3,658.8 302.2,666.8 308.0,674.7 313.7,682.6 319.3,690.6 324.8,698.5 330.1,706.5 335.4,714.4 340.5,722.4 345.4,730.3 350.2,738.2 354.9,746.2 359.4,754.1 363.7,762.1 368.0,770.0 370.5,776.5 374.6,783.2 426.3,823.4" fill="none" stroke="#002050" stroke-width="0.8"/>
</g>
<rect x="347" y="769.9" width="42" height="4" fill="#0000ff"/>
<rect x="351" y="778.1" width="42" height="3.9" fill="#a52a2a"/>
<line x1="84.4" x2="84.4" y1="63.7" y2="872.4" stroke="#002050" stroke-width="1.1"/>
<line x1="84.4" x2="624.6" y1="871.9" y2="871.9" stroke="#002050" stroke-width="1.1"/>
<line x1="79.4" x2="84.4" y1="64.2" y2="64.2" stroke="#002050" stroke-width="1.1"/>
<text x="49.3" y="69.0" font-size="13.4" text-anchor="start" fill="#002050" stroke="#002050" stroke-width="0.25" textLength="24.0" lengthAdjust="spacingAndGlyphs" >100</text>
<line x1="79.4" x2="84.4" y1="302.3" y2="302.3" stroke="#002050" stroke-width="1.1"/>
<text x="49.3" y="307.1" font-size="13.4" text-anchor="start" fill="#002050" stroke="#002050" stroke-width="0.25" textLength="24.0" lengthAdjust="spacingAndGlyphs" >200</text>
<line x1="79.4" x2="84.4" y1="441.6" y2="441.6" stroke="#002050" stroke-width="1.1"/>
<text x="49.3" y="446.4" font-size="13.4" text-anchor="start" fill="#002050" stroke="#002050" stroke-width="0.25" textLength="24.0" lengthAdjust="spacingAndGlyphs" >300</text>
<line x1="79.4" x2="84.4" y1="540.4" y2="540.4" stroke="#002050" stroke-width="1.1"/>
<text x="49.3" y="545.2" font-size="13.4" text-anchor="start" fill="#002050" stroke="#002050" stroke-width="0.25" textLength="24.0" lengthAdjust="spacingAndGlyphs" >400</text>
<line x1="79.4" x2="84.4" y1="617.0" y2="617.0" stroke="#002050" stroke-width="1.1"/>
<text x="49.3" y="621.8" font-size="13.4" text-anchor="start" fill="#002050" stroke="#002050" stroke-width="0.25" textLength="24.0" lengthAdjust="spacingAndGlyphs" >500</text>
<line x1="79.4" x2="84.4" y1="679.6" y2="679.6" stroke="#002050" stroke-width="1.1"/>
<text x="49.3" y="684.4" font-size="13.4" text-anchor="start" fill="#002050" stroke="#002050" stroke-width="0.25" textLength="24.0" lengthAdjust="spacingAndGlyphs" >600</text>
<line x1="79.4" x2="84.4" y1="732.6" y2="732.6" stroke="#002050" stroke-width="1.1"/>
<text x="49.3" y="737.4" font-size="13.4" text-anchor="start" fill="#002050" stroke="#002050" stroke-width="0.25" textLength="24.0" lengthAdjust="spacingAndGlyphs" >700</text>
<line x1="79.4" x2="84.4" y1="778.5" y2="778.5" stroke="#002050" stroke-width="1.1"/>
<text x="49.3" y="783.3" font-size="13.4" text-anchor="start" fill="#002050" stroke="#002050" stroke-width="0.25" textLength="24.0" lengthAdjust="spacingAndGlyphs" >800</text>
<line x1="79.4" x2="84.4" y1="818.9" y2="818.9" stroke="#002050" stroke-width="1.1"/>
<text x="49.3" y="823.7" font-size="13.4" text-anchor="start" fill="#002050" stroke="#002050" stroke-width="0.25" textLength="24.0" lengthAdjust="spacingAndGlyphs" >900</text>
<line x1="79.4" x2="84.4" y1="855.1" y2="855.1" stroke="#002050" stroke-width="1.1"/>
<text x="41.3" y="859.9" font-size="13.4" text-anchor="start" fill="#002050" stroke="#002050" stroke-width="0.25" textLength="32.0" lengthAdjust="spacingAndGlyphs" >1000</text>
<line x1="133.5" x2="133.5" y1="871.9" y2="876.9" stroke="#002050" stroke-width="1.1"/>
<text x="120.5" y="892.0" font-size="13.4" text-anchor="start" fill="#002050" stroke="#002050" stroke-width="0.25" textLength="26.0" lengthAdjust="spacingAndGlyphs" >−20</text>
<line x1="231.7" x2="231.7" y1="871.9" y2="876.9" stroke="#002050" stroke-width="1.1"/>
<text x="218.7" y="892.0" font-size="13.4" text-anchor="start" fill="#002050" stroke="#002050" stroke-width="0.25" textLength="26.0" lengthAdjust="spacingAndGlyphs" >−10</text>
<line x1="329.9" x2="329.9" y1="871.9" y2="876.9" stroke="#002050" stroke-width="1.1"/>
<text x="325.9" y="892.0" font-size="13.4" text-anchor="start" fill="#002050" stroke="#002050" stroke-width="0.25" textLength="8.0" lengthAdjust="spacingAndGlyphs" >0</text>
<line x1="428.2" x2="428.2" y1="871.9" y2="876.9" stroke="#002050" stroke-width="1.1"/>
<text x="420.4" y="892.0" font-size="13.4" text-anchor="start" fill="#002050" stroke="#002050" stroke-width="0.25" textLength="15.6" lengthAdjust="spacingAndGlyphs" >10</text>
<line x1="526.4" x2="526.4" y1="871.9" y2="876.9" stroke="#002050" stroke-width="1.1"/>
<text x="518.6" y="892.0" font-size="13.4" text-anchor="start" fill="#002050" stroke="#002050" stroke-width="0.25" textLength="15.6" lengthAdjust="spacingAndGlyphs" >20</text>
<line x1="624.6" x2="624.6" y1="871.9" y2="876.9" stroke="#002050" stroke-width="1.1"/>
<text x="616.8" y="892.0" font-size="13.4" text-anchor="start" fill="#002050" stroke="#002050" stroke-width="0.25" textLength="15.6" lengthAdjust="spacingAndGlyphs" >30</text>
<text x="295.5" y="911.7" font-size="13.4" text-anchor="start" fill="#002050" stroke="#002050" stroke-width="0.25" textLength="117.8" lengthAdjust="spacingAndGlyphs" >Temperature (°C)</text>
<text x="30.4" y="541.5" font-size="13.4" text-anchor="start" fill="#002050" stroke="#002050" stroke-width="0.25" textLength="144.2" lengthAdjust="spacingAndGlyphs" transform="rotate(-90 30.4 541.5)" >Isobaric Height (hPa)</text>
<text x="0.3" y="20.8" font-size="24.9" text-anchor="start" fill="#002050" stroke="#002050" stroke-width="0.25" textLength="887.8" lengthAdjust="spacingAndGlyphs" >Rapid City Airport, SD; Model Run 2026-04-05 12 UTC; WRF Domain 02</text>
<text x="135.7" y="56.2" font-size="21.9" text-anchor="start" fill="#002050" stroke="#002050" stroke-width="0.25" textLength="437.3" lengthAdjust="spacingAndGlyphs" xml:space="preserve">2026-04-06 20 UTC&#160;&#160;(2026-04-06 14 MDT)</text>
<text x="113.0" y="85.2" font-size="13.4" text-anchor="start" fill="#002050" stroke="#002050" stroke-width="0.25" textLength="77.8" lengthAdjust="spacingAndGlyphs" >LCL Height:</text>
<text x="198.2" y="85.2" font-size="13.4" text-anchor="start" fill="#002050" stroke="#002050" stroke-width="0.25" textLength="64.5" lengthAdjust="spacingAndGlyphs" >1899.0 m</text>
<text x="113.0" y="103.2" font-size="13.4" text-anchor="start" fill="#002050" stroke="#002050" stroke-width="0.25" textLength="77.8" lengthAdjust="spacingAndGlyphs" >LFC Height:</text>
<text x="198.2" y="103.2" font-size="13.4" text-anchor="start" fill="#002050" stroke="#002050" stroke-width="0.25" textLength="64.5" lengthAdjust="spacingAndGlyphs" >1899.0 m</text>
<text x="151.8" y="121.1" font-size="13.4" text-anchor="start" fill="#002050" stroke="#002050" stroke-width="0.25" textLength="39.0" lengthAdjust="spacingAndGlyphs" >MLLR:</text>
<text x="198.2" y="121.1" font-size="13.4" text-anchor="start" fill="#002050" stroke="#002050" stroke-width="0.25" textLength="33.8" lengthAdjust="spacingAndGlyphs" >7.4 K</text>
<text x="134.6" y="139.1" font-size="13.4" text-anchor="start" fill="#002050" stroke="#002050" stroke-width="0.25" textLength="56.2" lengthAdjust="spacingAndGlyphs" >SBCAPE:</text>
<text x="198.2" y="139.1" font-size="13.4" text-anchor="start" fill="#002050" stroke="#002050" stroke-width="0.25" textLength="50.1" lengthAdjust="spacingAndGlyphs" >0.1 J/kg</text>
<text x="146.7" y="157.0" font-size="13.4" text-anchor="start" fill="#002050" stroke="#002050" stroke-width="0.25" textLength="44.1" lengthAdjust="spacingAndGlyphs" >SBCIN:</text>
<text x="198.2" y="157.0" font-size="13.4" text-anchor="start" fill="#002050" stroke="#002050" stroke-width="0.25" textLength="50.1" lengthAdjust="spacingAndGlyphs" >0.0 J/kg</text>
<text x="132.7" y="174.9" font-size="13.4" text-anchor="start" fill="#002050" stroke="#002050" stroke-width="0.25" textLength="58.1" lengthAdjust="spacingAndGlyphs" >MLCAPE:</text>
<text x="198.2" y="174.9" font-size="13.4" text-anchor="start" fill="#002050" stroke="#002050" stroke-width="0.25" textLength="50.1" lengthAdjust="spacingAndGlyphs" >0.0 J/kg</text>
<text x="144.8" y="192.9" font-size="13.4" text-anchor="start" fill="#002050" stroke="#002050" stroke-width="0.25" textLength="46.0" lengthAdjust="spacingAndGlyphs" >MLCIN:</text>
<text x="198.2" y="192.9" font-size="13.4" text-anchor="start" fill="#002050" stroke="#002050" stroke-width="0.25" textLength="50.1" lengthAdjust="spacingAndGlyphs" >0.0 J/kg</text>
<text x="129.7" y="210.8" font-size="13.4" text-anchor="start" fill="#002050" stroke="#002050" stroke-width="0.25" textLength="61.1" lengthAdjust="spacingAndGlyphs" >MUCAPE:</text>
<text x="198.2" y="210.8" font-size="13.4" text-anchor="start" fill="#002050" stroke="#002050" stroke-width="0.25" textLength="50.1" lengthAdjust="spacingAndGlyphs" >0.0 J/kg</text>
<text x="94.4" y="228.8" font-size="13.4" text-anchor="start" fill="#002050" stroke="#002050" stroke-width="0.25" textLength="96.4" lengthAdjust="spacingAndGlyphs" >Shear 0-1 km:</text>
<text x="198.2" y="228.8" font-size="13.4" text-anchor="start" fill="#002050" stroke="#002050" stroke-width="0.25" textLength="50.1" lengthAdjust="spacingAndGlyphs" >3.6 m/s</text>
<text x="94.4" y="246.8" font-size="13.4" text-anchor="start" fill="#002050" stroke="#002050" stroke-width="0.25" textLength="96.4" lengthAdjust="spacingAndGlyphs" >Shear 0-6 km:</text>
<text x="198.2" y="246.8" font-size="13.4" text-anchor="start" fill="#002050" stroke="#002050" stroke-width="0.25" textLength="58.7" lengthAdjust="spacingAndGlyphs" >30.1 m/s</text>
<text x="106.5" y="264.7" font-size="13.4" text-anchor="start" fill="#002050" stroke="#002050" stroke-width="0.25" textLength="84.3" lengthAdjust="spacingAndGlyphs" >SRH 0-1 km:</text>
<text x="198.2" y="264.7" font-size="13.4" text-anchor="start" fill="#002050" stroke="#002050" stroke-width="0.25" textLength="60.3" lengthAdjust="spacingAndGlyphs" >0.0 m²/s²</text>
<text x="106.5" y="282.6" font-size="13.4" text-anchor="start" fill="#002050" stroke="#002050" stroke-width="0.25" textLength="84.3" lengthAdjust="spacingAndGlyphs" >SRH 0-3 km:</text>
<text x="198.2" y="282.6" font-size="13.4" text-anchor="start" fill="#002050" stroke="#002050" stroke-width="0.25" textLength="83.1" lengthAdjust="spacingAndGlyphs" >-114.2 m²/s²</text>
<line x1="624.7" y1="67.5" x2="594.0" y2="51.0" stroke="#002050" stroke-width="1.7" stroke-linecap="round"/>
<line x1="605.5" y1="57.2" x2="606.9" y2="50.0" stroke="#002050" stroke-width="1.7" stroke-linecap="round"/>
<polygon points="594.0,51.0 604.4,40.8 601.7,55.1" fill="#002050" stroke="#002050" stroke-width="1.2" stroke-linejoin="round"/>
<line x1="624.7" y1="121.0" x2="594.0" y2="105.0" stroke="#002050" stroke-width="1.7" stroke-linecap="round"/>
<line x1="605.5" y1="111.0" x2="606.8" y2="103.9" stroke="#002050" stroke-width="1.7" stroke-linecap="round"/>
<polygon points="594.0,105.0 604.2,94.7 601.7,109.0" fill="#002050" stroke="#002050" stroke-width="1.2" stroke-linejoin="round"/>
<line x1="624.7" y1="174.0" x2="592.9" y2="159.4" stroke="#002050" stroke-width="1.7" stroke-linecap="round"/>
<line x1="604.8" y1="164.9" x2="605.8" y2="157.6" stroke="#002050" stroke-width="1.7" stroke-linecap="round"/>
<polygon points="592.9,159.4 602.7,148.5 600.9,163.1" fill="#002050" stroke="#002050" stroke-width="1.2" stroke-linejoin="round"/>
<line x1="624.7" y1="227.1" x2="591.8" y2="215.1" stroke="#002050" stroke-width="1.7" stroke-linecap="round"/>
<line x1="604.1" y1="219.6" x2="604.8" y2="204.9" stroke="#002050" stroke-width="1.7" stroke-linecap="round"/>
<polygon points="591.8,215.1 600.7,203.4 600.0,218.1" fill="#002050" stroke="#002050" stroke-width="1.2" stroke-linejoin="round"/>
<line x1="624.7" y1="280.4" x2="591.3" y2="269.1" stroke="#002050" stroke-width="1.7" stroke-linecap="round"/>
<line x1="603.8" y1="273.3" x2="604.2" y2="258.6" stroke="#002050" stroke-width="1.7" stroke-linecap="round"/>
<polygon points="591.3,269.1 600.0,257.2 599.6,271.9" fill="#002050" stroke="#002050" stroke-width="1.2" stroke-linejoin="round"/>
<line x1="624.7" y1="332.6" x2="591.3" y2="323.2" stroke="#002050" stroke-width="1.7" stroke-linecap="round"/>
<line x1="603.8" y1="326.7" x2="603.4" y2="312.2" stroke="#002050" stroke-width="1.7" stroke-linecap="round"/>
<line x1="608.0" y1="327.9" x2="607.8" y2="320.6" stroke="#002050" stroke-width="1.7" stroke-linecap="round"/>
<polygon points="591.3,323.2 599.2,311.0 599.6,325.6" fill="#002050" stroke="#002050" stroke-width="1.2" stroke-linejoin="round"/>
<line x1="624.7" y1="381.7" x2="590.6" y2="373.5" stroke="#002050" stroke-width="1.7" stroke-linecap="round"/>
<line x1="603.4" y1="376.6" x2="602.4" y2="361.9" stroke="#002050" stroke-width="1.7" stroke-linecap="round"/>
<line x1="607.7" y1="377.6" x2="607.2" y2="370.3" stroke="#002050" stroke-width="1.7" stroke-linecap="round"/>
<polygon points="590.6,373.5 598.1,360.9 599.1,375.6" fill="#002050" stroke="#002050" stroke-width="1.2" stroke-linejoin="round"/>
<line x1="624.7" y1="426.4" x2="591.0" y2="417.7" stroke="#002050" stroke-width="1.7" stroke-linecap="round"/>
<line x1="603.6" y1="421.0" x2="602.9" y2="406.4" stroke="#002050" stroke-width="1.7" stroke-linecap="round"/>
<polygon points="591.0,417.7 598.7,405.3 599.4,419.9" fill="#002050" stroke="#002050" stroke-width="1.2" stroke-linejoin="round"/>
<line x1="624.7" y1="465.2" x2="590.6" y2="455.8" stroke="#002050" stroke-width="1.7" stroke-linecap="round"/>
<line x1="603.4" y1="459.3" x2="603.1" y2="451.9" stroke="#002050" stroke-width="1.7" stroke-linecap="round"/>
<polygon points="590.6,455.8 598.6,443.3 599.1,458.1" fill="#002050" stroke="#002050" stroke-width="1.2" stroke-linejoin="round"/>
<line x1="624.7" y1="500.0" x2="590.6" y2="491.7" stroke="#002050" stroke-width="1.7" stroke-linecap="round"/>
<polygon points="590.6,491.7 598.2,479.1 599.1,493.8" fill="#002050" stroke="#002050" stroke-width="1.2" stroke-linejoin="round"/>
<line x1="624.7" y1="532.2" x2="590.6" y2="525.1" stroke="#002050" stroke-width="1.7" stroke-linecap="round"/>
<polygon points="590.6,525.1 597.7,512.3 599.1,526.9" fill="#002050" stroke="#002050" stroke-width="1.2" stroke-linejoin="round"/>
<line x1="624.7" y1="560.5" x2="590.3" y2="553.7" stroke="#002050" stroke-width="1.7" stroke-linecap="round"/>
<line x1="590.3" y1="553.7" x2="588.7" y2="539.1" stroke="#002050" stroke-width="1.7" stroke-linecap="round"/>
<line x1="594.6" y1="554.6" x2="593.0" y2="539.9" stroke="#002050" stroke-width="1.7" stroke-linecap="round"/>
<line x1="598.9" y1="555.4" x2="597.3" y2="540.8" stroke="#002050" stroke-width="1.7" stroke-linecap="round"/>
<line x1="603.2" y1="556.2" x2="601.6" y2="541.6" stroke="#002050" stroke-width="1.7" stroke-linecap="round"/>
<line x1="607.5" y1="557.1" x2="606.7" y2="549.8" stroke="#002050" stroke-width="1.7" stroke-linecap="round"/>
<line x1="624.7" y1="586.2" x2="590.6" y2="578.5" stroke="#002050" stroke-width="1.7" stroke-linecap="round"/>
<line x1="590.6" y1="578.5" x2="589.4" y2="563.9" stroke="#002050" stroke-width="1.7" stroke-linecap="round"/>
<line x1="594.9" y1="579.5" x2="593.7" y2="564.9" stroke="#002050" stroke-width="1.7" stroke-linecap="round"/>
<line x1="599.1" y1="580.4" x2="597.9" y2="565.8" stroke="#002050" stroke-width="1.7" stroke-linecap="round"/>
<line x1="603.4" y1="581.4" x2="602.2" y2="566.8" stroke="#002050" stroke-width="1.7" stroke-linecap="round"/>
<line x1="624.7" y1="609.2" x2="590.6" y2="600.7" stroke="#002050" stroke-width="1.7" stroke-linecap="round"/>
<line x1="590.6" y1="600.7" x2="589.7" y2="586.0" stroke="#002050" stroke-width="1.7" stroke-linecap="round"/>
<line x1="594.9" y1="601.8" x2="594.0" y2="587.1" stroke="#002050" stroke-width="1.7" stroke-linecap="round"/>
<line x1="599.1" y1="602.8" x2="598.3" y2="588.1" stroke="#002050" stroke-width="1.7" stroke-linecap="round"/>
<line x1="603.4" y1="603.9" x2="603.0" y2="596.5" stroke="#002050" stroke-width="1.7" stroke-linecap="round"/>
<line x1="624.7" y1="649.1" x2="592.0" y2="638.8" stroke="#002050" stroke-width="1.7" stroke-linecap="round"/>
<line x1="592.0" y1="638.8" x2="592.0" y2="624.4" stroke="#002050" stroke-width="1.7" stroke-linecap="round"/>
<line x1="596.1" y1="640.1" x2="596.1" y2="625.7" stroke="#002050" stroke-width="1.7" stroke-linecap="round"/>
<line x1="600.2" y1="641.4" x2="600.2" y2="634.2" stroke="#002050" stroke-width="1.7" stroke-linecap="round"/>
<line x1="624.7" y1="681.5" x2="592.3" y2="670.3" stroke="#002050" stroke-width="1.7" stroke-linecap="round"/>
<line x1="592.3" y1="670.3" x2="592.7" y2="655.9" stroke="#002050" stroke-width="1.7" stroke-linecap="round"/>
<line x1="596.3" y1="671.7" x2="596.8" y2="657.3" stroke="#002050" stroke-width="1.7" stroke-linecap="round"/>
<line x1="624.7" y1="709.2" x2="591.9" y2="699.6" stroke="#002050" stroke-width="1.7" stroke-linecap="round"/>
<line x1="591.9" y1="699.6" x2="591.6" y2="685.3" stroke="#002050" stroke-width="1.7" stroke-linecap="round"/>
<line x1="596.0" y1="700.8" x2="595.7" y2="686.5" stroke="#002050" stroke-width="1.7" stroke-linecap="round"/>
<line x1="624.7" y1="731.5" x2="592.5" y2="719.4" stroke="#002050" stroke-width="1.7" stroke-linecap="round"/>
<line x1="592.5" y1="719.4" x2="593.3" y2="705.0" stroke="#002050" stroke-width="1.7" stroke-linecap="round"/>
<line x1="624.7" y1="750.8" x2="596.9" y2="730.4" stroke="#002050" stroke-width="1.7" stroke-linecap="round"/>
<line x1="596.9" y1="730.4" x2="601.6" y2="716.7" stroke="#002050" stroke-width="1.7" stroke-linecap="round"/>
<line x1="624.7" y1="765.7" x2="636.9" y2="799.9" stroke="#002050" stroke-width="1.7" stroke-linecap="round"/>
<line x1="636.9" y1="799.9" x2="624.7" y2="809.1" stroke="#002050" stroke-width="1.7" stroke-linecap="round"/>
<line x1="624.7" y1="779.0" x2="644.0" y2="807.5" stroke="#002050" stroke-width="1.7" stroke-linecap="round"/>
<line x1="644.0" y1="807.5" x2="635.0" y2="818.8" stroke="#002050" stroke-width="1.7" stroke-linecap="round"/>
<line x1="624.7" y1="790.3" x2="656.2" y2="802.0" stroke="#002050" stroke-width="1.7" stroke-linecap="round"/>
<line x1="656.2" y1="802.0" x2="655.5" y2="816.1" stroke="#002050" stroke-width="1.7" stroke-linecap="round"/>
<line x1="652.3" y1="800.5" x2="651.5" y2="814.6" stroke="#002050" stroke-width="1.7" stroke-linecap="round"/>
<line x1="624.7" y1="799.3" x2="656.4" y2="810.7" stroke="#002050" stroke-width="1.7" stroke-linecap="round"/>
<line x1="656.4" y1="810.7" x2="655.8" y2="824.8" stroke="#002050" stroke-width="1.7" stroke-linecap="round"/>
<line x1="652.4" y1="809.2" x2="651.8" y2="823.3" stroke="#002050" stroke-width="1.7" stroke-linecap="round"/>
<line x1="624.7" y1="807.3" x2="656.6" y2="818.3" stroke="#002050" stroke-width="1.7" stroke-linecap="round"/>
<line x1="656.6" y1="818.3" x2="656.1" y2="832.4" stroke="#002050" stroke-width="1.7" stroke-linecap="round"/>
<line x1="652.6" y1="816.9" x2="652.2" y2="831.1" stroke="#002050" stroke-width="1.7" stroke-linecap="round"/>
<line x1="624.7" y1="813.2" x2="656.7" y2="823.9" stroke="#002050" stroke-width="1.7" stroke-linecap="round"/>
<line x1="656.7" y1="823.9" x2="656.5" y2="838.0" stroke="#002050" stroke-width="1.7" stroke-linecap="round"/>
<line x1="652.7" y1="822.5" x2="652.5" y2="836.7" stroke="#002050" stroke-width="1.7" stroke-linecap="round"/>
<line x1="624.7" y1="818.6" x2="656.9" y2="828.9" stroke="#002050" stroke-width="1.7" stroke-linecap="round"/>
<line x1="656.9" y1="828.9" x2="656.8" y2="843.1" stroke="#002050" stroke-width="1.7" stroke-linecap="round"/>
<line x1="652.9" y1="827.6" x2="652.8" y2="834.7" stroke="#002050" stroke-width="1.7" stroke-linecap="round"/>
<line x1="624.7" y1="823.4" x2="657.1" y2="833.4" stroke="#002050" stroke-width="1.7" stroke-linecap="round"/>
<line x1="657.1" y1="833.4" x2="657.1" y2="847.6" stroke="#002050" stroke-width="1.7" stroke-linecap="round"/>
<circle cx="564.3" cy="871.3" r="22.3" fill="#fff" stroke="#b4b4b4" stroke-width="1"/>
<line x1="564.3" y1="871.3" x2="564.3" y2="850.2" stroke="#002050" stroke-width="1.2"/>
<line x1="564.3" y1="871.3" x2="576.6" y2="864.4" stroke="#002050" stroke-width="1.2"/>
<text x="532.3" y="834.6" font-size="13.4" text-anchor="start" fill="#002050" stroke="#002050" stroke-width="0.25" textLength="63.3" lengthAdjust="spacingAndGlyphs" >Mon-MDT</text>
<clipPath id="hc"><rect x="710.5" y="82.4" width="189.0" height="189.0"/></clipPath>
<g clip-path="url(#hc)">
<circle cx="805.0" cy="176.9" r="23.62" fill="none" stroke="#808080" stroke-width="1.1" stroke-dasharray="5.1 2.2"/>
<circle cx="805.0" cy="176.9" r="47.24" fill="none" stroke="#808080" stroke-width="1.1" stroke-dasharray="5.1 2.2"/>
<circle cx="805.0" cy="176.9" r="70.86" fill="none" stroke="#808080" stroke-width="1.1" stroke-dasharray="5.1 2.2"/>
<circle cx="805.0" cy="176.9" r="94.48" fill="none" stroke="#808080" stroke-width="1.1" stroke-dasharray="5.1 2.2"/>
<circle cx="805.0" cy="176.9" r="118.09" fill="none" stroke="#808080" stroke-width="1.1" stroke-dasharray="5.1 2.2"/>
<circle cx="805.0" cy="176.9" r="141.71" fill="none" stroke="#808080" stroke-width="1.1" stroke-dasharray="5.1 2.2"/>
<line x1="710.5" x2="899.5" y1="176.9" y2="176.9" stroke="#808080" stroke-width="2.0" stroke-dasharray="7.7 3.4"/>
<line x1="804.5" x2="804.5" y1="271.4" y2="82.4" stroke="#808080" stroke-width="2.0" stroke-dasharray="7.7 3.4"/>
</g>
<line x1="788.5" y1="172.9" x2="789.2" y2="171.7" stroke="#0000a6" stroke-width="3.2" stroke-linecap="round"/>
<line x1="789.2" y1="171.7" x2="789.9" y2="170.4" stroke="#0000ae" stroke-width="3.2" stroke-linecap="round"/>
<line x1="789.9" y1="170.4" x2="790.5" y2="169.2" stroke="#0000b6" stroke-width="3.2" stroke-linecap="round"/>
<line x1="790.5" y1="169.2" x2="791.2" y2="167.9" stroke="#0000bd" stroke-width="3.2" stroke-linecap="round"/>
<line x1="791.2" y1="167.9" x2="791.9" y2="166.7" stroke="#0000c5" stroke-width="3.2" stroke-linecap="round"/>
<line x1="791.9" y1="166.7" x2="792.6" y2="165.4" stroke="#0000cd" stroke-width="3.2" stroke-linecap="round"/>
<line x1="792.6" y1="165.4" x2="793.5" y2="164.8" stroke="#0000d4" stroke-width="3.2" stroke-linecap="round"/>
<line x1="793.5" y1="164.8" x2="794.4" y2="164.2" stroke="#0000d9" stroke-width="3.2" stroke-linecap="round"/>
<line x1="794.4" y1="164.2" x2="795.4" y2="163.6" stroke="#0000df" stroke-width="3.2" stroke-linecap="round"/>
<line x1="795.4" y1="163.6" x2="796.3" y2="162.9" stroke="#0000e5" stroke-width="3.2" stroke-linecap="round"/>
<line x1="796.3" y1="162.9" x2="797.2" y2="162.3" stroke="#0000eb" stroke-width="3.2" stroke-linecap="round"/>
<line x1="797.2" y1="162.3" x2="798.1" y2="161.7" stroke="#0000f1" stroke-width="3.2" stroke-linecap="round"/>
<line x1="798.1" y1="161.7" x2="800.0" y2="162.6" stroke="#0000f7" stroke-width="3.2" stroke-linecap="round"/>
<line x1="800.0" y1="162.6" x2="802.0" y2="163.6" stroke="#0000ff" stroke-width="3.2" stroke-linecap="round"/>
<line x1="802.0" y1="163.6" x2="804.0" y2="164.6" stroke="#0000ff" stroke-width="3.2" stroke-linecap="round"/>
<line x1="804.0" y1="164.6" x2="805.9" y2="165.5" stroke="#0000ff" stroke-width="3.2" stroke-linecap="round"/>
<line x1="805.9" y1="165.5" x2="807.8" y2="166.4" stroke="#0005ff" stroke-width="3.2" stroke-linecap="round"/>
<line x1="807.8" y1="166.4" x2="809.8" y2="167.4" stroke="#000cff" stroke-width="3.2" stroke-linecap="round"/>
<line x1="809.8" y1="167.4" x2="810.1" y2="170.0" stroke="#0014ff" stroke-width="3.2" stroke-linecap="round"/>
<line x1="810.1" y1="170.0" x2="810.5" y2="172.7" stroke="#001fff" stroke-width="3.2" stroke-linecap="round"/>
<line x1="810.5" y1="172.7" x2="810.8" y2="175.3" stroke="#0029ff" stroke-width="3.2" stroke-linecap="round"/>
<line x1="810.8" y1="175.3" x2="811.1" y2="177.9" stroke="#0033ff" stroke-width="3.2" stroke-linecap="round"/>
<line x1="811.1" y1="177.9" x2="811.5" y2="180.6" stroke="#003dff" stroke-width="3.2" stroke-linecap="round"/>
<line x1="811.5" y1="180.6" x2="811.8" y2="183.2" stroke="#0047ff" stroke-width="3.2" stroke-linecap="round"/>
<line x1="811.8" y1="183.2" x2="813.9" y2="182.8" stroke="#0052ff" stroke-width="3.2" stroke-linecap="round"/>
<line x1="813.9" y1="182.8" x2="815.9" y2="182.3" stroke="#005cff" stroke-width="3.2" stroke-linecap="round"/>
<line x1="815.9" y1="182.3" x2="818.0" y2="181.8" stroke="#0066ff" stroke-width="3.2" stroke-linecap="round"/>
<line x1="818.0" y1="181.8" x2="820.1" y2="181.4" stroke="#0070ff" stroke-width="3.2" stroke-linecap="round"/>
<line x1="820.1" y1="181.4" x2="822.1" y2="180.9" stroke="#007aff" stroke-width="3.2" stroke-linecap="round"/>
<line x1="822.1" y1="180.9" x2="824.2" y2="180.5" stroke="#0085ff" stroke-width="3.2" stroke-linecap="round"/>
<line x1="824.2" y1="180.5" x2="825.0" y2="181.4" stroke="#0090ff" stroke-width="3.2" stroke-linecap="round"/>
<line x1="825.0" y1="181.4" x2="825.8" y2="182.3" stroke="#009cff" stroke-width="3.2" stroke-linecap="round"/>
<line x1="825.8" y1="182.3" x2="826.6" y2="183.2" stroke="#00a7ff" stroke-width="3.2" stroke-linecap="round"/>
<line x1="826.6" y1="183.2" x2="827.4" y2="184.2" stroke="#00b3ff" stroke-width="3.2" stroke-linecap="round"/>
<line x1="827.4" y1="184.2" x2="828.2" y2="185.1" stroke="#00bfff" stroke-width="3.2" stroke-linecap="round"/>
<line x1="828.2" y1="185.1" x2="829.0" y2="186.0" stroke="#00cbff" stroke-width="3.2" stroke-linecap="round"/>
<line x1="829.0" y1="186.0" x2="830.4" y2="185.8" stroke="#00d9ff" stroke-width="3.2" stroke-linecap="round"/>
<line x1="830.4" y1="185.8" x2="831.7" y2="185.5" stroke="#02e8f5" stroke-width="3.2" stroke-linecap="round"/>
<line x1="831.7" y1="185.5" x2="833.1" y2="185.3" stroke="#0ef7e8" stroke-width="3.2" stroke-linecap="round"/>
<line x1="833.1" y1="185.3" x2="834.5" y2="185.1" stroke="#1bffdc" stroke-width="3.2" stroke-linecap="round"/>
<line x1="834.5" y1="185.1" x2="835.8" y2="184.8" stroke="#27ffd0" stroke-width="3.2" stroke-linecap="round"/>
<line x1="835.8" y1="184.8" x2="837.2" y2="184.6" stroke="#33ffc3" stroke-width="3.2" stroke-linecap="round"/>
<line x1="837.2" y1="184.6" x2="839.5" y2="185.1" stroke="#40ffb6" stroke-width="3.2" stroke-linecap="round"/>
<line x1="839.5" y1="185.1" x2="841.8" y2="185.5" stroke="#4effa9" stroke-width="3.2" stroke-linecap="round"/>
<line x1="841.8" y1="185.5" x2="844.0" y2="185.9" stroke="#5cff9b" stroke-width="3.2" stroke-linecap="round"/>
<line x1="844.0" y1="185.9" x2="846.3" y2="186.4" stroke="#6aff8d" stroke-width="3.2" stroke-linecap="round"/>
<line x1="846.3" y1="186.4" x2="848.6" y2="186.9" stroke="#77ff80" stroke-width="3.2" stroke-linecap="round"/>
<line x1="848.6" y1="186.9" x2="850.9" y2="187.3" stroke="#85ff72" stroke-width="3.2" stroke-linecap="round"/>
<line x1="850.9" y1="187.3" x2="853.0" y2="187.3" stroke="#93ff64" stroke-width="3.2" stroke-linecap="round"/>
<line x1="853.0" y1="187.3" x2="855.0" y2="187.3" stroke="#a0ff56" stroke-width="3.2" stroke-linecap="round"/>
<line x1="855.0" y1="187.3" x2="857.1" y2="187.3" stroke="#aeff49" stroke-width="3.2" stroke-linecap="round"/>
<line x1="857.1" y1="187.3" x2="859.2" y2="187.3" stroke="#bcff3b" stroke-width="3.2" stroke-linecap="round"/>
<line x1="859.2" y1="187.3" x2="861.2" y2="187.3" stroke="#caff2d" stroke-width="3.2" stroke-linecap="round"/>
<line x1="861.2" y1="187.3" x2="863.3" y2="187.3" stroke="#d7ff20" stroke-width="3.2" stroke-linecap="round"/>
<line x1="863.3" y1="187.3" x2="864.1" y2="188.3" stroke="#e5ff12" stroke-width="3.2" stroke-linecap="round"/>
<line x1="864.1" y1="188.3" x2="864.9" y2="189.4" stroke="#f3fa04" stroke-width="3.2" stroke-linecap="round"/>
<line x1="864.9" y1="189.4" x2="865.7" y2="190.4" stroke="#ffeb00" stroke-width="3.2" stroke-linecap="round"/>
<line x1="865.7" y1="190.4" x2="866.5" y2="191.4" stroke="#ffdb00" stroke-width="3.2" stroke-linecap="round"/>
<line x1="866.5" y1="191.4" x2="867.3" y2="192.5" stroke="#ffcb00" stroke-width="3.2" stroke-linecap="round"/>
<line x1="867.3" y1="192.5" x2="868.1" y2="193.5" stroke="#ffbb00" stroke-width="3.2" stroke-linecap="round"/>
<line x1="868.1" y1="193.5" x2="870.0" y2="193.4" stroke="#ffa800" stroke-width="3.2" stroke-linecap="round"/>
<line x1="870.0" y1="193.4" x2="872.0" y2="193.3" stroke="#ff9200" stroke-width="3.2" stroke-linecap="round"/>
<line x1="872.0" y1="193.3" x2="873.9" y2="193.2" stroke="#ff7c00" stroke-width="3.2" stroke-linecap="round"/>
<line x1="873.9" y1="193.2" x2="875.8" y2="193.0" stroke="#ff6600" stroke-width="3.2" stroke-linecap="round"/>
<line x1="875.8" y1="193.0" x2="877.8" y2="192.9" stroke="#ff5000" stroke-width="3.2" stroke-linecap="round"/>
<line x1="877.8" y1="192.9" x2="879.7" y2="192.8" stroke="#ff3a00" stroke-width="3.2" stroke-linecap="round"/>
<line x1="879.7" y1="192.8" x2="880.2" y2="193.0" stroke="#ff2700" stroke-width="3.2" stroke-linecap="round"/>
<line x1="880.2" y1="193.0" x2="880.6" y2="193.3" stroke="#ff1500" stroke-width="3.2" stroke-linecap="round"/>
<line x1="880.6" y1="193.3" x2="881.1" y2="193.5" stroke="#ed0400" stroke-width="3.2" stroke-linecap="round"/>
<line x1="881.1" y1="193.5" x2="881.6" y2="193.7" stroke="#d70000" stroke-width="3.2" stroke-linecap="round"/>
<line x1="881.6" y1="193.7" x2="882.0" y2="194.0" stroke="#c20000" stroke-width="3.2" stroke-linecap="round"/>
<line x1="882.0" y1="194.0" x2="882.5" y2="194.2" stroke="#ad0000" stroke-width="3.2" stroke-linecap="round"/>
<line x1="710.5" x2="710.5" y1="81.9" y2="272.0" stroke="#002050" stroke-width="1.1"/>
<line x1="710.5" x2="899.5" y1="271.4" y2="271.4" stroke="#002050" stroke-width="1.1"/>
<rect x="710.5" y="268.6" width="168.0" height="3.3" fill="#002050"/>
<line x1="710.5" x2="710.5" y1="271.4" y2="276.4" stroke="#002050" stroke-width="1.1"/>
<line x1="705.5" x2="710.5" y1="271.4" y2="271.4" stroke="#002050" stroke-width="1.1"/>
<text x="697.2" y="291.5" font-size="13.4" text-anchor="start" fill="#002050" stroke="#002050" stroke-width="0.25" textLength="26.6" lengthAdjust="spacingAndGlyphs" >−40</text>
<text x="672.0" y="276.1" font-size="13.4" text-anchor="start" fill="#002050" stroke="#002050" stroke-width="0.25" textLength="26.6" lengthAdjust="spacingAndGlyphs" >−40</text>
<line x1="757.8" x2="757.8" y1="271.4" y2="276.4" stroke="#002050" stroke-width="1.1"/>
<line x1="705.5" x2="710.5" y1="224.2" y2="224.2" stroke="#002050" stroke-width="1.1"/>
<text x="744.5" y="291.5" font-size="13.4" text-anchor="start" fill="#002050" stroke="#002050" stroke-width="0.25" textLength="26.6" lengthAdjust="spacingAndGlyphs" >−20</text>
<text x="672.0" y="228.9" font-size="13.4" text-anchor="start" fill="#002050" stroke="#002050" stroke-width="0.25" textLength="26.6" lengthAdjust="spacingAndGlyphs" >−20</text>
<line x1="805.0" x2="805.0" y1="271.4" y2="276.4" stroke="#002050" stroke-width="1.1"/>
<line x1="705.5" x2="710.5" y1="176.9" y2="176.9" stroke="#002050" stroke-width="1.1"/>
<text x="801.2" y="291.5" font-size="13.4" text-anchor="start" fill="#002050" stroke="#002050" stroke-width="0.25" textLength="7.7" lengthAdjust="spacingAndGlyphs" >0</text>
<text x="690.9" y="181.6" font-size="13.4" text-anchor="start" fill="#002050" stroke="#002050" stroke-width="0.25" textLength="7.7" lengthAdjust="spacingAndGlyphs" >0</text>
<line x1="852.3" x2="852.3" y1="271.4" y2="276.4" stroke="#002050" stroke-width="1.1"/>
<line x1="705.5" x2="710.5" y1="129.7" y2="129.7" stroke="#002050" stroke-width="1.1"/>
<text x="844.6" y="291.5" font-size="13.4" text-anchor="start" fill="#002050" stroke="#002050" stroke-width="0.25" textLength="15.4" lengthAdjust="spacingAndGlyphs" >20</text>
<text x="683.2" y="134.4" font-size="13.4" text-anchor="start" fill="#002050" stroke="#002050" stroke-width="0.25" textLength="15.4" lengthAdjust="spacingAndGlyphs" >20</text>
<line x1="899.5" x2="899.5" y1="271.4" y2="276.4" stroke="#002050" stroke-width="1.1"/>
<line x1="705.5" x2="710.5" y1="82.4" y2="82.4" stroke="#002050" stroke-width="1.1"/>
<text x="891.8" y="291.5" font-size="13.4" text-anchor="start" fill="#002050" stroke="#002050" stroke-width="0.25" textLength="15.4" lengthAdjust="spacingAndGlyphs" >40</text>
<text x="683.2" y="87.1" font-size="13.4" text-anchor="start" fill="#002050" stroke="#002050" stroke-width="0.25" textLength="15.4" lengthAdjust="spacingAndGlyphs" >40</text>
<text x="773.4" y="306.6" font-size="13.4" fill="#002050" textLength="61.8" lengthAdjust="spacingAndGlyphs">u (m s<tspan font-size="9.4" dy="-5">−1</tspan><tspan dy="5">)</tspan></text>
<text x="668" y="208.5" font-size="13.4" fill="#002050" textLength="61.9" lengthAdjust="spacingAndGlyphs" transform="rotate(-90 668 208.5)">v (m s<tspan font-size="9.4" dy="-5">−1</tspan><tspan dy="5">)</tspan></text>
<rect x="668.9" y="312.2" width="270.4" height="13" fill="url(#jet)" stroke="#002050" stroke-width="1.1"/>
<line x1="668.9" x2="668.9" y1="325.2" y2="330.2" stroke="#002050" stroke-width="1.1"/>
<text x="665.0" y="345.6" font-size="13.4" text-anchor="start" fill="#002050" stroke="#002050" stroke-width="0.25" textLength="7.7" lengthAdjust="spacingAndGlyphs" >0</text>
<line x1="723.0" x2="723.0" y1="325.2" y2="330.2" stroke="#002050" stroke-width="1.1"/>
<text x="719.1" y="345.6" font-size="13.4" text-anchor="start" fill="#002050" stroke="#002050" stroke-width="0.25" textLength="7.7" lengthAdjust="spacingAndGlyphs" >2</text>
<line x1="777.1" x2="777.1" y1="325.2" y2="330.2" stroke="#002050" stroke-width="1.1"/>
<text x="773.2" y="345.6" font-size="13.4" text-anchor="start" fill="#002050" stroke="#002050" stroke-width="0.25" textLength="7.7" lengthAdjust="spacingAndGlyphs" >4</text>
<line x1="831.1" x2="831.1" y1="325.2" y2="330.2" stroke="#002050" stroke-width="1.1"/>
<text x="827.3" y="345.6" font-size="13.4" text-anchor="start" fill="#002050" stroke="#002050" stroke-width="0.25" textLength="7.7" lengthAdjust="spacingAndGlyphs" >6</text>
<line x1="885.2" x2="885.2" y1="325.2" y2="330.2" stroke="#002050" stroke-width="1.1"/>
<text x="881.4" y="345.6" font-size="13.4" text-anchor="start" fill="#002050" stroke="#002050" stroke-width="0.25" textLength="7.7" lengthAdjust="spacingAndGlyphs" >8</text>
<line x1="939.3" x2="939.3" y1="325.2" y2="330.2" stroke="#002050" stroke-width="1.1"/>
<text x="931.6" y="345.6" font-size="13.4" text-anchor="start" fill="#002050" stroke="#002050" stroke-width="0.25" textLength="15.4" lengthAdjust="spacingAndGlyphs" >10</text>
<text x="747.7" y="365.6" font-size="13.4" text-anchor="start" fill="#002050" stroke="#002050" stroke-width="0.25" textLength="113.4" lengthAdjust="spacingAndGlyphs" >Height (km AGL)</text>
</svg>
</body></html>
